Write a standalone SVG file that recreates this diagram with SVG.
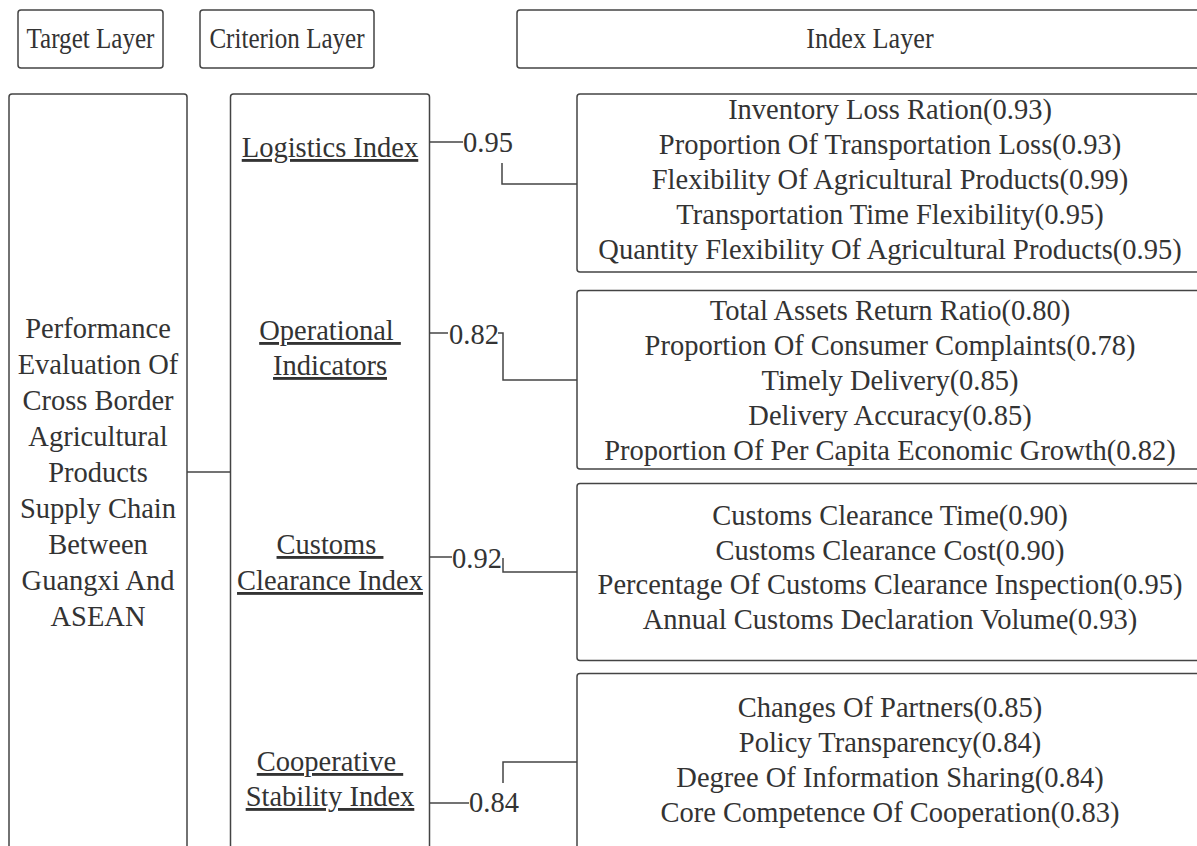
<svg xmlns="http://www.w3.org/2000/svg" width="1197" height="846" viewBox="0 0 1197 846" font-family="'Liberation Serif', 'Times New Roman', Times, 'DejaVu Serif', serif">
<style>
text{font-family:'Liberation Serif','Times New Roman',Times,'DejaVu Serif',serif;font-size:28.5px;fill:#333;}
.c{text-anchor:middle;}
.u{text-decoration:underline;white-space:pre;}
.box{fill:#fff;stroke:#444;stroke-width:1.5;}
.ln{fill:none;stroke:#444;stroke-width:1.5;}
</style>
<rect width="1197" height="846" fill="#fff"/>
<g id="hdr-target"><rect class="box" x="18" y="10" width="145" height="58" rx="3"/><text class="c" transform="translate(90.5,48) scale(0.88,1)">Target Layer</text></g>
<g id="hdr-criterion"><rect class="box" x="200" y="10" width="174" height="58" rx="3"/><text class="c" transform="translate(287,48) scale(0.88,1)">Criterion Layer</text></g>
<g id="hdr-index"><rect class="box" x="517" y="10" width="700" height="58" rx="3"/><text class="c" transform="translate(870,48) scale(0.92,1)">Index Layer</text></g>

<g id="target"><rect class="box" x="9" y="94" width="178" height="800" rx="3"/>
<text class="c" x="98" y="338">Performance</text>
<text class="c" x="98" y="374">Evaluation Of</text>
<text class="c" x="98" y="410">Cross Border</text>
<text class="c" x="98" y="446">Agricultural</text>
<text class="c" x="98" y="482">Products</text>
<text class="c" x="98" y="518">Supply Chain</text>
<text class="c" x="98" y="554">Between</text>
<text class="c" x="98" y="590">Guangxi And</text>
<text class="c" x="98" y="626">ASEAN</text>
</g>

<g id="criterion"><rect class="box" x="230.5" y="94" width="199" height="800" rx="3"/>
<text class="c u" x="330" y="157">Logistics Index</text>
<text class="c u" x="330" y="340">Operational </text>
<text class="c u" x="330" y="375">Indicators</text>
<text class="c u" x="330" y="554">Customs </text>
<text class="c u" x="330" y="590">Clearance Index</text>
<text class="c u" x="330" y="771">Cooperative </text>
<text class="c u" x="330" y="806">Stability Index</text>
</g>

<g id="idx-logistics"><rect class="box" x="577" y="94" width="640" height="178" rx="3"/>
<text class="c" x="890" y="119">Inventory Loss Ration(0.93)</text>
<text class="c" x="890" y="154">Proportion Of Transportation Loss(0.93)</text>
<text class="c" x="890" y="189">Flexibility Of Agricultural Products(0.99)</text>
<text class="c" x="890" y="224">Transportation Time Flexibility(0.95)</text>
<text class="c" x="890" y="259">Quantity Flexibility Of Agricultural Products(0.95)</text>
</g>

<g id="idx-operational"><rect class="box" x="577" y="290.5" width="640" height="178.5" rx="3"/>
<text class="c" x="890" y="320">Total Assets Return Ratio(0.80)</text>
<text class="c" x="890" y="355">Proportion Of Consumer Complaints(0.78)</text>
<text class="c" x="890" y="390">Timely Delivery(0.85)</text>
<text class="c" x="890" y="425">Delivery Accuracy(0.85)</text>
<text class="c" x="890" y="460">Proportion Of Per Capita Economic Growth(0.82)</text>
</g>

<g id="idx-customs"><rect class="box" x="577" y="483.5" width="640" height="177" rx="3"/>
<text class="c" x="890" y="525">Customs Clearance Time(0.90)</text>
<text class="c" x="890" y="560">Customs Clearance Cost(0.90)</text>
<text class="c" x="890" y="594">Percentage Of Customs Clearance Inspection(0.95)</text>
<text class="c" x="890" y="629">Annual Customs Declaration Volume(0.93)</text>
</g>

<g id="idx-cooperative"><rect class="box" x="577" y="673.5" width="640" height="300" rx="3"/>
<text class="c" x="890" y="717">Changes Of Partners(0.85)</text>
<text class="c" x="890" y="752">Policy Transparency(0.84)</text>
<text class="c" x="890" y="787">Degree Of Information Sharing(0.84)</text>
<text class="c" x="890" y="822">Core Competence Of Cooperation(0.83)</text>
</g>

<g id="connectors">
<path class="ln" d="M187,472 H230.5"/>
<path class="ln" d="M429.5,142 H463"/>
<path class="ln" d="M502,163 V184 H577"/>
<path class="ln" d="M429.5,333 H448"/>
<path class="ln" d="M498,333 H503 V380 H577"/>
<path class="ln" d="M429.5,557 H452"/>
<path class="ln" d="M503,558 V572 H577"/>
<path class="ln" d="M429.5,803 H469"/>
<path class="ln" d="M503,783 V762 H577"/>
<text x="463" y="152">0.95</text>
<text x="449" y="344">0.82</text>
<text x="452" y="568">0.92</text>
<text x="469" y="812">0.84</text>
</g>
</svg>
